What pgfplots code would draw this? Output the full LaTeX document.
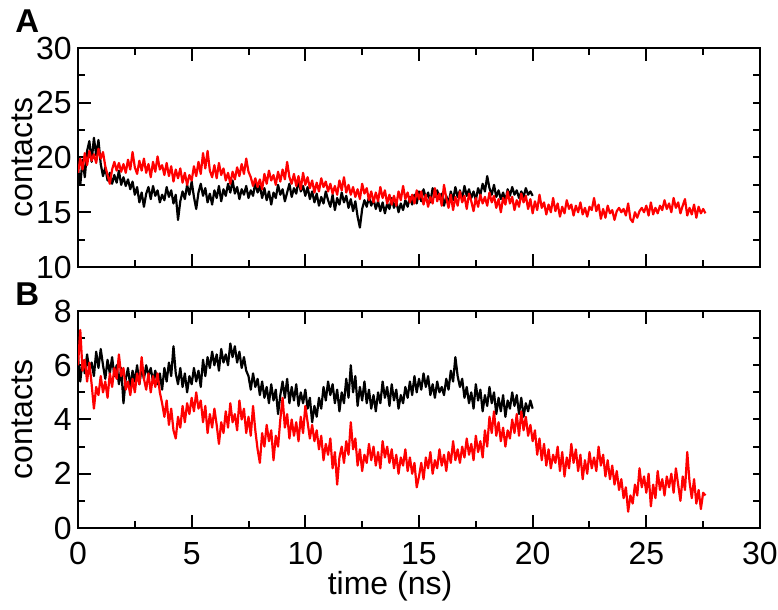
\documentclass[border=0pt]{standalone}
\usepackage{pgfplots}
\pgfplotsset{compat=1.18}
\usepackage{fontspec}
\setmainfont{Liberation Sans}
\begin{document}
\fontsize{16}{18}\selectfont
\begin{tikzpicture}
\path[use as bounding box] (0pt,0pt) rectangle (389pt,305pt);
\pgfplotsset{
  base/.style={
    scale only axis, width=341pt, xmin=0, xmax=30,
    anchor=south west,
    axis line style={line width=1pt},
    every tick/.style={black, line width=1pt},
    tick align=inside,
    major tick length=6.5pt, minor tick length=3.5pt,
    /pgf/number format/assume math mode=true,
    tick label style={font=\fontsize{16}{18}\selectfont},
    label style={font=\fontsize{16}{18}\selectfont},
    xtick={0,5,...,30}, minor x tick num=1,
    minor y tick num=1,
    xtick pos=both, ytick pos=left,
    xticklabel style={inner sep=0pt, yshift=-7pt},
    yticklabel style={inner sep=0pt, xshift=-3pt},
    every axis y label/.style={at={(axis description cs:-0.082,0.5)}, rotate=90, anchor=center},
    every axis plot/.append style={line width=1.1pt, line join=round},
  },
  rightticks/.style={
    scale only axis, width=341pt, xmin=0, xmax=30,
    anchor=south west,
    axis x line=none, axis y line*=right,
    axis line style={line width=1pt, -},
    every tick/.style={black, line width=1pt},
    tick align=inside, major tick length=3.5pt,
    yticklabels={},
  },
}
% Panel A
\begin{axis}[base, at={(39pt,171.5pt)}, height=109.5pt, ymin=10, ymax=30,
  ytick={10,15,...,30}, xticklabels={}, ylabel={contacts}]
\addplot[black] coordinates {(0.0,19.0)(0.1,17.5)(0.2,19.8)(0.3,18.2)(0.4,20.6)(0.5,21.5)(0.6,19.6)(0.7,21.8)(0.8,20.2)(0.9,21.6)(1.0,19.4)(1.1,18.3)(1.2,19.1)(1.3,17.9)(1.4,18.6)(1.5,17.6)(1.6,18.4)(1.7,17.7)(1.8,18.8)(1.9,17.5)(2.0,18.2)(2.1,17.4)(2.2,18.0)(2.3,17.1)(2.4,17.8)(2.5,16.6)(2.6,17.3)(2.7,15.9)(2.8,16.8)(2.9,15.5)(3.0,16.7)(3.1,17.3)(3.2,16.2)(3.3,17.4)(3.4,16.5)(3.5,17.0)(3.6,15.9)(3.7,16.6)(3.8,16.1)(3.9,17.3)(4.0,16.4)(4.1,17.0)(4.2,15.8)(4.3,16.6)(4.4,14.3)(4.5,16.0)(4.6,16.9)(4.7,16.2)(4.8,17.5)(4.9,16.6)(5.0,17.8)(5.1,16.4)(5.2,15.3)(5.3,16.8)(5.4,17.6)(5.5,16.5)(5.6,17.2)(5.7,15.9)(5.8,16.7)(5.9,15.7)(6.0,17.0)(6.1,16.3)(6.2,17.4)(6.3,16.0)(6.4,17.1)(6.5,16.5)(6.6,17.6)(6.7,16.8)(6.8,17.9)(6.9,16.7)(7.0,17.3)(7.1,16.2)(7.2,17.1)(7.3,16.6)(7.4,17.4)(7.5,16.3)(7.6,17.0)(7.7,16.5)(7.8,17.7)(7.9,16.8)(8.0,17.4)(8.1,16.3)(8.2,17.2)(8.3,16.1)(8.4,16.9)(8.5,15.7)(8.6,16.8)(8.7,16.3)(8.8,17.5)(8.9,16.6)(9.0,17.1)(9.1,16.0)(9.2,16.8)(9.3,17.6)(9.4,16.4)(9.5,17.2)(9.6,16.7)(9.7,17.9)(9.8,16.9)(9.9,17.4)(10.0,16.5)(10.1,17.3)(10.2,16.2)(10.3,16.9)(10.4,15.9)(10.5,16.7)(10.6,15.6)(10.7,16.4)(10.8,15.8)(10.9,16.9)(11.0,16.1)(11.1,15.5)(11.2,16.6)(11.3,15.2)(11.4,16.3)(11.5,15.7)(11.6,16.8)(11.7,15.9)(11.8,16.5)(11.9,15.4)(12.0,16.2)(12.1,15.1)(12.2,16.0)(12.3,14.6)(12.4,13.6)(12.5,15.3)(12.6,16.1)(12.7,15.5)(12.8,16.4)(12.9,15.6)(13.0,16.2)(13.1,15.3)(13.2,16.0)(13.3,15.1)(13.4,15.9)(13.5,14.9)(13.6,15.8)(13.7,15.3)(13.8,16.3)(13.9,15.4)(14.0,16.0)(14.1,15.0)(14.2,15.8)(14.3,15.2)(14.4,16.1)(14.5,15.5)(14.6,16.4)(14.7,15.7)(14.8,16.6)(14.9,15.8)(15.0,16.9)(15.1,16.0)(15.2,17.1)(15.3,16.3)(15.4,16.8)(15.5,15.9)(15.6,17.2)(15.7,16.4)(15.8,17.0)(15.9,16.2)(16.0,16.7)(16.1,15.6)(16.2,16.5)(16.3,15.8)(16.4,16.9)(16.5,16.1)(16.6,17.3)(16.7,16.4)(16.8,17.0)(16.9,16.2)(17.0,17.4)(17.1,16.5)(17.2,17.1)(17.3,16.3)(17.4,16.9)(17.5,16.1)(17.6,17.2)(17.7,16.6)(17.8,17.6)(17.9,16.9)(18.0,18.3)(18.1,17.2)(18.2,16.6)(18.3,17.5)(18.4,16.4)(18.5,17.0)(18.6,16.2)(18.7,16.8)(18.8,16.0)(18.9,17.1)(19.0,16.5)(19.1,17.3)(19.2,16.6)(19.3,17.0)(19.4,16.3)(19.5,16.9)(19.6,16.4)(19.7,17.2)(19.8,16.6)(19.9,16.9)(20.0,16.5)};
\addplot[red] coordinates {(0.0,18.6)(0.1,19.9)(0.2,18.9)(0.3,20.4)(0.4,19.3)(0.5,20.6)(0.6,19.7)(0.7,20.3)(0.8,19.5)(0.9,20.8)(1.0,19.9)(1.1,20.5)(1.2,19.2)(1.3,18.4)(1.4,17.6)(1.5,18.9)(1.6,19.6)(1.7,18.8)(1.8,19.5)(1.9,18.7)(2.0,19.4)(2.1,18.6)(2.2,19.8)(2.3,18.9)(2.4,20.5)(2.5,19.1)(2.6,18.5)(2.7,19.7)(2.8,18.8)(2.9,19.9)(3.0,18.6)(3.1,19.4)(3.2,18.2)(3.3,19.6)(3.4,18.7)(3.5,20.1)(3.6,18.9)(3.7,19.3)(3.8,18.4)(3.9,19.5)(4.0,18.3)(4.1,19.2)(4.2,17.8)(4.3,18.9)(4.4,18.1)(4.5,19.0)(4.6,17.7)(4.7,18.6)(4.8,17.5)(4.9,18.4)(5.0,17.9)(5.1,19.2)(5.2,18.3)(5.3,19.6)(5.4,18.5)(5.5,20.4)(5.6,19.0)(5.7,20.6)(5.8,18.8)(5.9,18.2)(6.0,19.3)(6.1,18.1)(6.2,19.5)(6.3,18.4)(6.4,19.0)(6.5,17.9)(6.6,18.6)(6.7,17.6)(6.8,18.7)(6.9,18.0)(7.0,19.1)(7.1,18.3)(7.2,19.4)(7.3,18.5)(7.4,19.9)(7.5,18.7)(7.6,18.2)(7.7,17.4)(7.8,18.1)(7.9,17.3)(8.0,18.0)(8.1,17.1)(8.2,18.5)(8.3,17.6)(8.4,18.8)(8.5,17.9)(8.6,18.4)(8.7,17.5)(8.8,18.7)(8.9,17.8)(9.0,18.9)(9.1,18.0)(9.2,19.6)(9.3,18.2)(9.4,17.6)(9.5,18.5)(9.6,17.4)(9.7,18.3)(9.8,17.1)(9.9,18.6)(10.0,17.5)(10.1,18.2)(10.2,17.2)(10.3,17.9)(10.4,16.8)(10.5,17.7)(10.6,16.9)(10.7,18.1)(10.8,17.3)(10.9,17.8)(11.0,16.9)(11.1,17.6)(11.2,16.7)(11.3,17.4)(11.4,16.6)(11.5,17.9)(11.6,17.0)(11.7,18.2)(11.8,16.8)(11.9,17.5)(12.0,16.6)(12.1,17.3)(12.2,16.4)(12.3,17.1)(12.4,16.2)(12.5,17.6)(12.6,16.7)(12.7,17.2)(12.8,16.1)(12.9,16.9)(13.0,15.9)(13.1,16.8)(13.2,16.0)(13.3,17.3)(13.4,16.3)(13.5,17.0)(13.6,15.8)(13.7,16.6)(13.8,15.7)(13.9,16.5)(14.0,15.6)(14.1,16.9)(14.2,16.1)(14.3,17.4)(14.4,16.2)(14.5,16.8)(14.6,15.9)(14.7,16.6)(14.8,15.8)(14.9,17.0)(15.0,16.2)(15.1,16.9)(15.2,15.7)(15.3,16.6)(15.4,15.5)(15.5,16.4)(15.6,15.8)(15.7,17.2)(15.8,16.0)(15.9,16.7)(16.0,15.6)(16.1,17.5)(16.2,16.3)(16.3,15.4)(16.4,16.6)(16.5,15.2)(16.6,16.4)(16.7,15.6)(16.8,16.9)(16.9,15.9)(17.0,16.5)(17.1,15.3)(17.2,16.7)(17.3,16.0)(17.4,15.1)(17.5,16.3)(17.6,15.5)(17.7,16.6)(17.8,15.8)(17.9,16.4)(18.0,15.6)(18.1,16.8)(18.2,15.9)(18.3,16.5)(18.4,15.4)(18.5,16.2)(18.6,15.0)(18.7,16.3)(18.8,15.7)(18.9,16.9)(19.0,15.8)(19.1,16.4)(19.2,15.2)(19.3,16.1)(19.4,15.5)(19.5,16.7)(19.6,15.9)(19.7,16.5)(19.8,15.3)(19.9,16.2)(20.0,14.9)(20.1,16.0)(20.2,15.2)(20.3,16.6)(20.4,15.4)(20.5,15.9)(20.6,14.8)(20.7,15.7)(20.8,15.0)(20.9,16.3)(21.0,15.1)(21.1,15.8)(21.2,14.6)(21.3,15.5)(21.4,14.9)(21.5,16.1)(21.6,15.3)(21.7,15.7)(21.8,14.7)(21.9,15.6)(22.0,15.0)(22.1,15.9)(22.2,14.8)(22.3,15.4)(22.4,14.6)(22.5,15.5)(22.6,15.2)(22.7,16.3)(22.8,15.1)(22.9,15.7)(23.0,14.4)(23.1,15.3)(23.2,14.5)(23.3,15.6)(23.4,14.9)(23.5,15.2)(23.6,14.3)(23.7,15.1)(23.8,15.4)(23.9,15.0)(24.0,15.3)(24.1,14.7)(24.2,15.8)(24.3,14.4)(24.4,14.1)(24.5,15.0)(24.6,14.5)(24.7,15.1)(24.8,15.4)(24.9,15.0)(25.0,15.6)(25.1,14.7)(25.2,15.9)(25.3,14.8)(25.4,15.4)(25.5,14.9)(25.6,15.6)(25.7,15.2)(25.8,16.1)(25.9,15.3)(26.0,15.8)(26.1,15.0)(26.2,16.3)(26.3,15.4)(26.4,15.9)(26.5,14.9)(26.6,15.6)(26.7,16.2)(26.8,14.7)(26.9,15.4)(27.0,14.8)(27.1,15.7)(27.2,14.5)(27.3,15.5)(27.4,14.9)(27.5,15.3)(27.6,14.9)};
\end{axis}
\begin{axis}[rightticks, at={(39pt,171.5pt)}, height=109.5pt, ymin=10, ymax=30,
  ytick={12.5,15,...,27.5}]
\end{axis}
% Panel B
\begin{axis}[base, at={(39pt,41pt)}, height=108.5pt, ymin=0, ymax=8,
  ytick={0,2,...,8}, ylabel={contacts}, xlabel={time (ns)},
  every axis x label/.style={at={(axis description cs:0.4575,0)}, anchor=base, yshift=-33.5pt}]
\addplot[black] coordinates {(0.0,6.3)(0.1,5.4)(0.2,6.2)(0.3,5.7)(0.4,6.4)(0.5,5.8)(0.6,6.1)(0.7,5.6)(0.8,6.5)(0.9,5.9)(1.0,6.6)(1.1,6.0)(1.2,5.5)(1.3,6.2)(1.4,5.7)(1.5,6.3)(1.6,5.6)(1.7,6.0)(1.8,5.3)(1.9,5.9)(2.0,4.6)(2.1,5.5)(2.2,5.9)(2.3,5.2)(2.4,5.8)(2.5,5.4)(2.6,6.0)(2.7,5.3)(2.8,5.9)(2.9,5.5)(3.0,6.0)(3.1,5.6)(3.2,5.9)(3.3,5.4)(3.4,5.8)(3.5,5.3)(3.6,5.7)(3.7,5.1)(3.8,5.9)(3.9,5.4)(4.0,6.1)(4.1,5.6)(4.2,6.7)(4.3,5.7)(4.4,5.3)(4.5,5.9)(4.6,5.2)(4.7,5.7)(4.8,5.0)(4.9,5.6)(5.0,5.3)(5.1,5.9)(5.2,5.4)(5.3,5.8)(5.4,5.2)(5.5,6.2)(5.6,5.6)(5.7,6.3)(5.8,5.9)(5.9,6.5)(6.0,6.0)(6.1,6.4)(6.2,5.8)(6.3,6.6)(6.4,6.1)(6.5,6.4)(6.6,6.0)(6.7,6.8)(6.8,6.3)(6.9,6.7)(7.0,6.1)(7.1,6.5)(7.2,5.9)(7.3,6.3)(7.4,5.8)(7.5,5.6)(7.6,5.1)(7.7,5.7)(7.8,5.2)(7.9,5.5)(8.0,4.9)(8.1,5.4)(8.2,4.8)(8.3,5.2)(8.4,4.6)(8.5,5.3)(8.6,4.7)(8.7,5.1)(8.8,4.2)(8.9,4.9)(9.0,5.4)(9.1,4.8)(9.2,5.5)(9.3,4.6)(9.4,5.2)(9.5,4.7)(9.6,5.3)(9.7,4.5)(9.8,5.0)(9.9,4.6)(10.0,5.1)(10.1,4.4)(10.2,4.8)(10.3,3.9)(10.4,4.5)(10.5,4.1)(10.6,4.8)(10.7,4.4)(10.8,5.2)(10.9,4.7)(11.0,5.4)(11.1,4.9)(11.2,5.3)(11.3,4.6)(11.4,5.1)(11.5,4.3)(11.6,5.0)(11.7,4.6)(11.8,5.5)(11.9,4.8)(12.0,6.0)(12.1,5.0)(12.2,5.6)(12.3,4.5)(12.4,5.2)(12.5,4.7)(12.6,5.4)(12.7,4.6)(12.8,5.1)(12.9,4.4)(13.0,4.9)(13.1,4.3)(13.2,5.0)(13.3,4.6)(13.4,5.4)(13.5,4.8)(13.6,5.2)(13.7,4.5)(13.8,5.3)(13.9,4.7)(14.0,5.1)(14.1,4.4)(14.2,4.9)(14.3,4.6)(14.4,5.2)(14.5,4.8)(14.6,5.4)(14.7,4.9)(14.8,5.6)(14.9,5.0)(15.0,5.5)(15.1,5.1)(15.2,5.7)(15.3,5.2)(15.4,5.6)(15.5,4.9)(15.6,5.3)(15.7,4.8)(15.8,5.4)(15.9,5.0)(16.0,5.2)(16.1,4.9)(16.2,5.5)(16.3,5.1)(16.4,5.8)(16.5,5.4)(16.6,6.3)(16.7,5.6)(16.8,5.2)(16.9,5.5)(17.0,4.8)(17.1,5.2)(17.2,4.6)(17.3,5.0)(17.4,4.4)(17.5,5.3)(17.6,4.7)(17.7,5.1)(17.8,4.3)(17.9,4.9)(18.0,4.5)(18.1,5.2)(18.2,4.6)(18.3,5.0)(18.4,4.2)(18.5,4.8)(18.6,4.3)(18.7,4.9)(18.8,4.1)(18.9,4.7)(19.0,4.4)(19.1,5.0)(19.2,4.5)(19.3,4.9)(19.4,4.2)(19.5,4.8)(19.6,4.1)(19.7,4.6)(19.8,4.3)(19.9,4.7)(20.0,4.4)};
\addplot[red] coordinates {(0.0,6.0)(0.1,7.3)(0.2,5.8)(0.3,6.2)(0.4,5.4)(0.5,6.1)(0.6,5.3)(0.7,4.4)(0.8,5.2)(0.9,4.9)(1.0,5.6)(1.1,5.0)(1.2,5.4)(1.3,4.8)(1.4,5.7)(1.5,5.2)(1.6,5.9)(1.7,5.5)(1.8,6.4)(1.9,5.6)(2.0,5.9)(2.1,5.1)(2.2,5.4)(2.3,4.9)(2.4,5.5)(2.5,5.0)(2.6,5.7)(2.7,5.3)(2.8,6.3)(2.9,5.5)(3.0,5.1)(3.1,5.7)(3.2,5.0)(3.3,5.6)(3.4,5.2)(3.5,5.7)(3.6,5.0)(3.7,4.6)(3.8,4.1)(3.9,4.7)(4.0,3.8)(4.1,4.4)(4.2,3.6)(4.3,3.3)(4.4,4.1)(4.5,3.7)(4.6,4.5)(4.7,3.9)(4.8,4.6)(4.9,4.2)(5.0,4.8)(5.1,4.3)(5.2,5.0)(5.3,4.4)(5.4,4.7)(5.5,3.9)(5.6,4.5)(5.7,3.5)(5.8,4.2)(5.9,3.7)(6.0,4.4)(6.1,3.8)(6.2,3.1)(6.3,3.9)(6.4,3.5)(6.5,4.3)(6.6,3.7)(6.7,4.6)(6.8,3.9)(6.9,4.2)(7.0,3.6)(7.1,4.7)(7.2,4.0)(7.3,4.4)(7.4,3.5)(7.5,4.1)(7.6,3.4)(7.7,4.5)(7.8,3.6)(7.9,2.9)(8.0,2.4)(8.1,3.5)(8.2,3.0)(8.3,3.8)(8.4,3.2)(8.5,3.6)(8.6,2.5)(8.7,3.4)(8.8,3.0)(8.9,4.0)(9.0,4.8)(9.1,3.7)(9.2,4.2)(9.3,3.3)(9.4,4.0)(9.5,3.4)(9.6,3.9)(9.7,3.2)(9.8,4.1)(9.9,3.5)(10.0,4.5)(10.1,3.9)(10.2,3.3)(10.3,3.8)(10.4,3.2)(10.5,3.6)(10.6,2.9)(10.7,3.4)(10.8,2.5)(10.9,3.1)(11.0,2.7)(11.1,3.3)(11.2,2.2)(11.3,2.8)(11.4,1.6)(11.5,2.6)(11.6,3.0)(11.7,2.4)(11.8,3.2)(11.9,2.7)(12.0,3.9)(12.1,2.9)(12.2,3.3)(12.3,2.3)(12.4,2.9)(12.5,2.1)(12.6,2.7)(12.7,2.4)(12.8,3.1)(12.9,2.5)(13.0,3.0)(13.1,2.3)(13.2,2.8)(13.3,2.2)(13.4,3.2)(13.5,2.6)(13.6,3.0)(13.7,2.4)(13.8,2.9)(13.9,2.2)(14.0,2.7)(14.1,2.0)(14.2,2.6)(14.3,2.3)(14.4,2.9)(14.5,2.1)(14.6,2.6)(14.7,2.0)(14.8,2.4)(14.9,1.5)(15.0,1.9)(15.1,2.4)(15.2,1.8)(15.3,2.6)(15.4,2.2)(15.5,2.8)(15.6,2.0)(15.7,2.5)(15.8,2.2)(15.9,2.9)(16.0,2.3)(16.1,2.7)(16.2,2.1)(16.3,2.8)(16.4,2.4)(16.5,3.2)(16.6,2.5)(16.7,2.9)(16.8,2.4)(16.9,3.0)(17.0,2.6)(17.1,3.3)(17.2,2.7)(17.3,3.1)(17.4,2.5)(17.5,3.4)(17.6,2.8)(17.7,3.2)(17.8,2.6)(17.9,3.6)(18.0,3.0)(18.1,4.1)(18.2,3.5)(18.3,4.3)(18.4,3.4)(18.5,3.9)(18.6,3.2)(18.7,3.7)(18.8,3.0)(18.9,3.6)(19.0,3.3)(19.1,4.0)(19.2,3.5)(19.3,4.2)(19.4,3.4)(19.5,4.3)(19.6,3.6)(19.7,4.1)(19.8,3.4)(19.9,3.8)(20.0,3.2)(20.1,3.6)(20.2,2.7)(20.3,3.3)(20.4,2.5)(20.5,3.1)(20.6,2.3)(20.7,2.9)(20.8,2.2)(20.9,2.7)(21.0,2.4)(21.1,3.0)(21.2,2.1)(21.3,2.8)(21.4,1.9)(21.5,2.6)(21.6,2.2)(21.7,3.1)(21.8,2.4)(21.9,2.9)(22.0,2.1)(22.1,2.7)(22.2,1.8)(22.3,2.5)(22.4,2.0)(22.5,2.8)(22.6,2.2)(22.7,2.6)(22.8,2.1)(22.9,3.0)(23.0,2.3)(23.1,2.7)(23.2,1.9)(23.3,2.5)(23.4,1.8)(23.5,2.3)(23.6,1.6)(23.7,2.1)(23.8,1.4)(23.9,1.8)(24.0,1.1)(24.1,1.5)(24.2,0.6)(24.3,1.2)(24.4,0.9)(24.5,1.6)(24.6,1.2)(24.7,2.2)(24.8,1.5)(24.9,1.9)(25.0,1.3)(25.1,2.0)(25.2,0.8)(25.3,1.6)(25.4,1.1)(25.5,2.1)(25.6,1.4)(25.7,1.8)(25.8,1.2)(25.9,1.9)(26.0,1.5)(26.1,2.0)(26.2,1.3)(26.3,2.2)(26.4,1.6)(26.5,1.0)(26.6,1.9)(26.7,1.4)(26.8,2.8)(26.9,1.7)(27.0,1.1)(27.1,1.8)(27.2,0.9)(27.3,1.4)(27.4,0.7)(27.5,1.3)(27.6,1.2)};
\end{axis}
\begin{axis}[rightticks, at={(39pt,41pt)}, height=108.5pt, ymin=0, ymax=8,
  ytick={1,2,...,7}]
\end{axis}
\node[anchor=base west, inner sep=0pt] at (7.5pt,288.5pt) {\fontsize{16.5}{18}\selectfont\bfseries A};
\node[anchor=base west, inner sep=0pt] at (7.5pt,152pt) {\fontsize{16.5}{18}\selectfont\bfseries B};
\end{tikzpicture}
\end{document}
